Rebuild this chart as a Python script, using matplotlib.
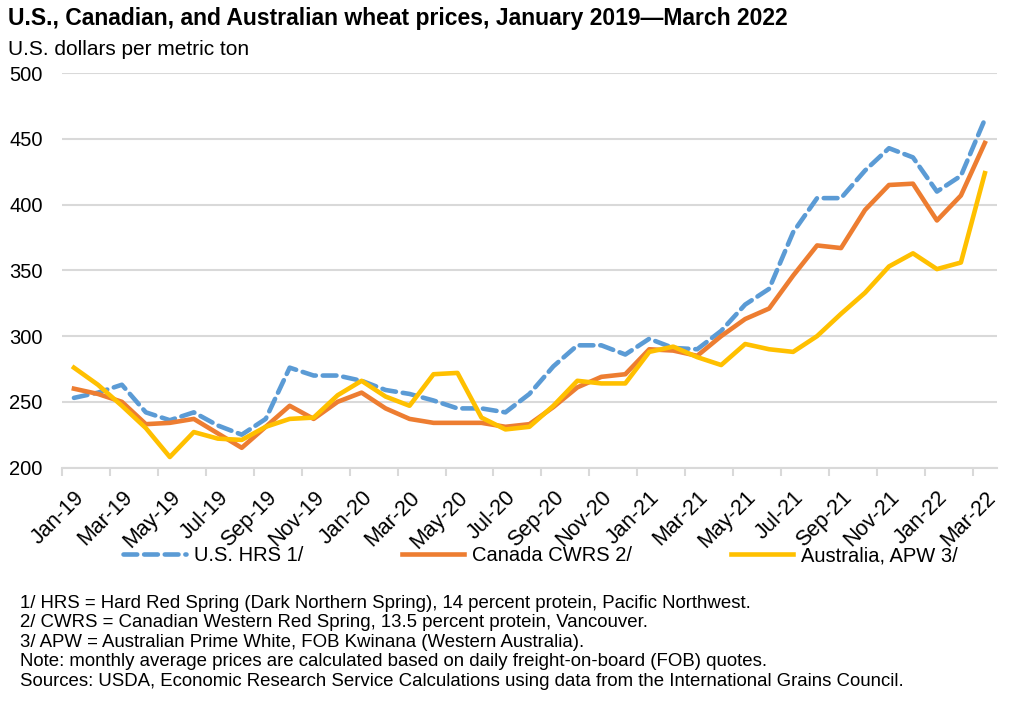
import numpy as np
import matplotlib
matplotlib.use('Agg')
import matplotlib.pyplot as plt

# monthly prices, Jan-2019 .. Mar-2022 (USD / metric ton)
months = ['Jan-19', 'Feb-19', 'Mar-19', 'Apr-19', 'May-19', 'Jun-19', 'Jul-19', 'Aug-19', 'Sep-19', 'Oct-19', 'Nov-19', 'Dec-19',
          'Jan-20', 'Feb-20', 'Mar-20', 'Apr-20', 'May-20', 'Jun-20', 'Jul-20', 'Aug-20', 'Sep-20', 'Oct-20', 'Nov-20', 'Dec-20',
          'Jan-21', 'Feb-21', 'Mar-21', 'Apr-21', 'May-21', 'Jun-21', 'Jul-21', 'Aug-21', 'Sep-21', 'Oct-21', 'Nov-21', 'Dec-21',
          'Jan-22', 'Feb-22', 'Mar-22']

us_hrs = [253, 257, 263, 242, 236, 242, 232, 225, 237, 276, 270, 270,
          266, 259, 256, 251, 245, 245, 242, 256, 277, 293, 293, 286,
          298, 291, 290, 304, 324, 336, 379, 405, 405, 426, 443, 436,
          410, 422, 465]
canada_cwrs = [260, 256, 250, 233, 234, 237, 226, 215, 231, 247, 237, 250,
               257, 245, 237, 234, 234, 234, 231, 233, 246, 261, 269, 271,
               290, 289, 285, 300, 313, 321, 346, 369, 367, 396, 415, 416,
               388, 407, 447]
australia_apw = [276, 263, 247, 230, 208, 227, 222, 221, 231, 237, 238, 255,
                 266, 254, 247, 271, 272, 238, 229, 231, 247, 266, 264, 264,
                 288, 292, 284, 278, 294, 290, 288, 300, 317, 333, 353, 363,
                 351, 356, 424]

footnotes = [
    "1/ HRS = Hard Red Spring (Dark Northern Spring), 14 percent protein, Pacific Northwest.",
    "2/ CWRS = Canadian Western Red Spring, 13.5 percent protein, Vancouver.",
    "3/ APW = Australian Prime White, FOB Kwinana (Western Australia).",
    "Note: monthly average prices are calculated based on daily freight-on-board (FOB) quotes.",
    "Sources: USDA, Economic Research Service Calculations using data from the International Grains Council.",
]

plt.rcParams['font.family'] = ['Liberation Sans', 'DejaVu Sans']

x = np.arange(len(months))

fig = plt.figure(figsize=(10.24, 7.02), dpi=100)
ax = fig.add_axes([0.0605, 0.334, 0.913, 0.5616])

ax.plot(x, us_hrs, color='#5B9BD5', lw=3.3, linestyle=(0, (3, 1.5)), dash_capstyle='round',
        label='U.S. HRS 1/')
ax.plot(x, canada_cwrs, color='#ED7D31', lw=3.3, label='Canada CWRS 2/')
ax.plot(x, australia_apw, color='#FFC000', lw=3.3, label='Australia, APW 3/')

ax.set_xlim(-0.5, len(months) - 0.5)
ax.set_ylim(200, 500)
ax.set_yticks(np.arange(200, 501, 50))
ax.yaxis.grid(True, color='#D9D9D9', lw=1.5)
ax.set_axisbelow(True)
for s in ['left', 'right', 'top']:
    ax.spines[s].set_visible(False)
ax.spines['bottom'].set_color('#D9D9D9')
ax.spines['bottom'].set_linewidth(1.5)

ax.tick_params(axis='y', length=0, pad=14, labelsize=14.5)

# labels every other month, tick marks on category boundaries
ax.set_xticks(x[::2])
ax.set_xticklabels(months[::2], rotation=45, ha='right', va='top',
                   rotation_mode='anchor', fontsize=15.5)
ax.tick_params(axis='x', which='major', length=0, pad=14)
ax.set_xticks(x[::2] - 0.5, minor=True)
ax.tick_params(axis='x', which='minor', length=6, width=1.5, color='#D9D9D9')

fig.text(0.008, 0.973, "U.S., Canadian, and Australian wheat prices, January 2019\u2014March 2022",
         fontsize=16.5, fontweight='bold', va='center')
fig.text(0.008, 0.93, "U.S. dollars per metric ton", fontsize=15, va='center')

fig.legend(loc='center', bbox_to_anchor=(0.528, 0.208), ncol=3, frameon=False,
           handlelength=3.1, columnspacing=4.9, handletextpad=0.4,
           prop={'size': 14.5})

for k, line in enumerate(footnotes):
    fig.text(0.02, 1 - (603 + 19.6 * k) / 702, line, fontsize=13.4, va='center')

fig.savefig('out.png', dpi=100)
